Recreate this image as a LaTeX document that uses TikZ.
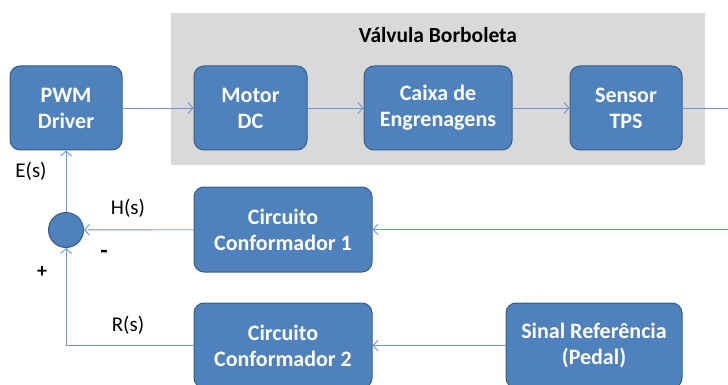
\documentclass[tikz,border=0pt]{standalone}
\usepackage{fontspec}
\setmainfont{Carlito}
\usetikzlibrary{arrows.meta}

\definecolor{blkfill}{HTML}{4F81BD}
\definecolor{blkline}{HTML}{385D8A}
\definecolor{linkcol}{HTML}{6E97CF}
\definecolor{valvegray}{HTML}{D9D9D9}

\begin{document}
\begin{tikzpicture}[x=1pt, y=-1pt,
        blk/.style={draw=blkline, fill=blkfill, line width=1pt, rounded corners=10pt,
            text=white, align=center, inner sep=0pt,
            font=\bfseries\fontsize{22}{26}\selectfont},
        lbl/.style={font=\fontsize{21}{24}\selectfont},
        link/.style={draw=linkcol, line width=0.9pt, -{Straight Barb[length=5pt, width=11pt]}}]
        \useasboundingbox (0, 0) rectangle (728, 385);

        % valvula borboleta
        \fill[valvegray] (171, 13) rectangle (705, 165);
        \node[font=\bfseries\fontsize{21.5}{24}\selectfont] (valve) at (438, 35) {Válvula Borboleta};

        \node[blk, minimum width=112pt, minimum height=84pt] (pwm) at (66, 108) {PWM\\Driver};
        \node[blk, minimum width=113pt, minimum height=84pt] (motor) at (250.5, 108) {Motor\\DC};
        \node[blk, minimum width=148pt, minimum height=84pt] (caixa) at (438, 108) {Caixa de\\Engrenagens};
        \node[blk, minimum width=112pt, minimum height=84pt] (tps) at (626, 108) {Sensor\\TPS};

        \node[blk, minimum width=178pt, minimum height=85pt] (conf1) at (283, 229.5) {Circuito\\Conformador 1};
        \node[blk, minimum width=178pt, minimum height=85pt] (conf2) at (283, 345.5) {Circuito\\Conformador 2};
        \node[blk, minimum width=176pt, minimum height=85pt] (pedal) at (594, 345.5) {Sinal Referência\\(Pedal)};

        \node[circle, draw=blkline, fill=blkfill, line width=1pt, minimum size=35pt, inner sep=0pt] (soma) at (66, 230) {};

        \coordinate (saida) at (728, 108);
        \coordinate (volta) at (728, 229.5);

        \draw[link] (pwm) -- (motor);
        \draw[link] (motor) -- (caixa);
        \draw[link] (caixa) -- (tps);
        \draw[linkcol, line width=0.9pt] (tps) -- (saida);

        \draw[link] (volta) -- (conf1);
        \draw[link] (conf1) -- (soma);
        \draw[link] (pedal) -- (conf2);
        \draw[link] (conf2.west) -| (soma.south);
        \draw[link] (soma) -- (pwm);

        \node[lbl] (es) at (31, 171) {E(s)};
        \node[lbl] (hs) at (128, 208) {H(s)};
        \node[lbl] (rs) at (128, 325) {R(s)};
        \node[font=\bfseries\fontsize{24}{26}\selectfont] (menos) at (104, 254) {-};
        \node[font=\bfseries\fontsize{20}{22}\selectfont] (mais) at (42, 272) {+};
    \end{tikzpicture}
\end{document}
